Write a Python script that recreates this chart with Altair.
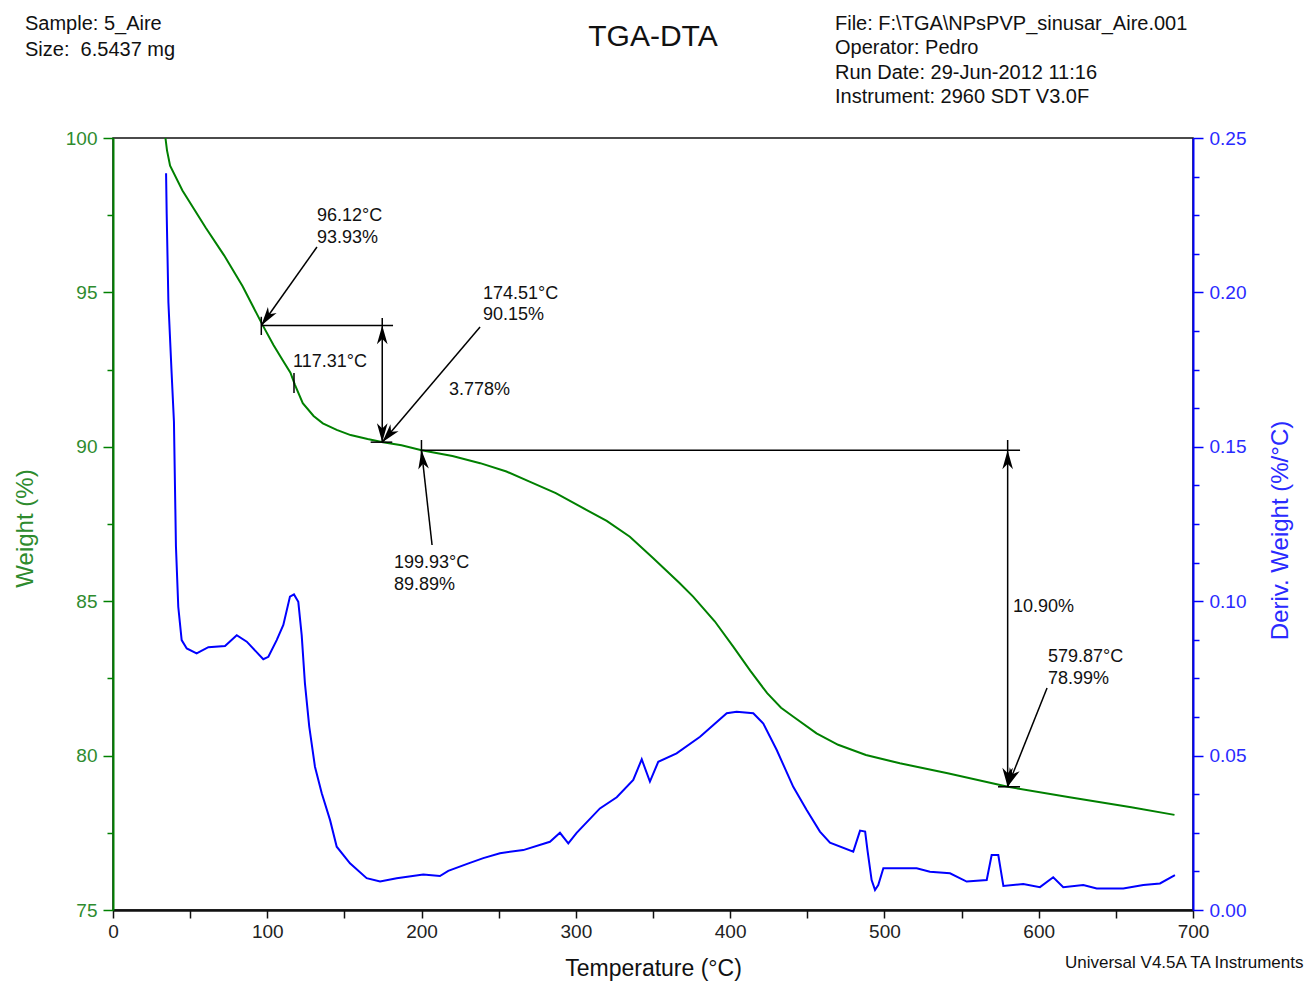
import math
import altair as alt
import pandas as pd

# ---- TGA weight curve (temperature °C, weight %) ----
tga_temp = [34, 35, 37, 45, 60, 72, 84, 97, 104, 110, 115, 118, 123, 130, 136, 145,
            154, 165, 175, 187, 200, 220, 238, 255, 270, 287, 303, 320, 335, 350,
            367, 376, 390, 402, 413, 424, 433, 441, 456, 470, 488, 510, 541, 580,
            620, 660, 688]
tga_weight = [100.0, 99.6, 99.1, 98.3, 97.1, 96.2, 95.2, 93.94, 93.3, 92.8, 92.4, 92.0,
              91.41, 91.0, 90.76, 90.55, 90.38, 90.25, 90.15, 90.05, 89.89, 89.7, 89.47,
              89.2, 88.87, 88.5, 88.06, 87.6, 87.09, 86.4, 85.6, 85.15, 84.35, 83.53,
              82.75, 82.02, 81.55, 81.26, 80.72, 80.35, 80.02, 79.75, 79.43, 78.99,
              78.65, 78.33, 78.08]

# ---- derivative weight curve (temperature °C, %/°C) ----
dtg_temp = [34.4, 34.8, 35.9, 38.0, 39.5, 40.8, 42.3, 44.5, 47.8, 54.2, 61.8, 72.6,
            80.2, 86.7, 97.4, 100.7, 106.1, 110.4, 114.7, 117.3, 120.1, 122.3, 124.4,
            127.2, 130.9, 135.3, 140.7, 145.0, 153.6, 164.4, 173.1, 183.9, 201.1,
            211.9, 217.3, 230, 240, 250.8, 265.9, 283.2, 289.7, 295.1, 300.5, 315.6,
            326.5, 337.2, 342.7, 348.0, 353.4, 365.3, 380.5, 397.8, 404.2, 415.0,
            421.5, 430.2, 440.9, 449.6, 458.2, 464.7, 479.8, 484.2, 487.5, 489.0,
            491.7, 493.9, 496.0, 499.3, 514.4, 520.9, 529.5, 542.5, 553.3, 566.3,
            569.5, 573.8, 577.1, 590.0, 600.8, 609.4, 615.9, 628.9, 637.6, 654.8,
            667.8, 678.6, 688.3]
dtg_value = [0.2386, 0.2255, 0.1969, 0.1738, 0.1581, 0.1177, 0.0982, 0.0874, 0.0847,
             0.0831, 0.0851, 0.0855, 0.0890, 0.0869, 0.0812, 0.0820, 0.0874, 0.0923,
             0.1015, 0.1022, 0.0998, 0.0890, 0.0734, 0.0594, 0.0464, 0.0378, 0.0291,
             0.0205, 0.0151, 0.0103, 0.0092, 0.0103, 0.0115, 0.0110, 0.0127, 0.0150,
             0.0168, 0.0184, 0.0194, 0.0221, 0.0250, 0.0216, 0.0250, 0.0329, 0.0365,
             0.0421, 0.0488, 0.0416, 0.0480, 0.0507, 0.0561, 0.0637, 0.0642, 0.0637,
             0.0604, 0.0518, 0.0399, 0.0324, 0.0254, 0.0218, 0.0189, 0.0257, 0.0254,
             0.0194, 0.0097, 0.0065, 0.0081, 0.0135, 0.0135, 0.0135, 0.0124, 0.0119,
             0.0092, 0.0097, 0.0178, 0.0178, 0.0078, 0.0084, 0.0074, 0.0106, 0.0074,
             0.0081, 0.0070, 0.0070, 0.0081, 0.0086, 0.0113]

# ---- step analysis results ----
onset1_t, onset1_w = 96.12, 93.93
end1_t, end1_w = 174.51, 90.15
peak1_t = 117.31
onset2_t, onset2_w = 199.93, 89.89
end2_t, end2_w = 579.87, 78.99
step1 = "3.778%"
step2 = "10.90%"

FONT = "Liberation Sans"
GREEN = "#008000"
GREEN_TXT = "#2e8b2e"
BLUE = "#0000ff"
BLUE_TXT = "#2a2aff"
INK = "#111111"

W, H = 1080, 772
PX_T = W / 700.0
PX_W = H / 25.0

x_scale = alt.Scale(domain=[0, 700], nice=False, zero=False)
w_scale = alt.Scale(domain=[75, 100], nice=False, zero=False)
d_scale = alt.Scale(domain=[0, 0.25], nice=False, zero=False)

x_ticks = [i * 25 for i in range(29)]
w_ticks = [75 + i * 1.25 for i in range(21)]
d_ticks = [round(i * 0.0125, 4) for i in range(21)]

D_MAJOR = "abs(datum.value * 20 - round(datum.value * 20)) < 1e-6"

x_axis = alt.Axis(
    values=x_ticks, format="d",
    labelExpr="datum.value % 100 === 0 ? datum.label : ''",
    title="Temperature (°C)", titleFont=FONT, titleFontSize=23, titleFontWeight="normal",
    titleColor=INK, titleY=58, titleBaseline="middle",
    labelFont=FONT, labelFontSize=19, labelColor="#222", labelPadding=4,
    labelOverlap=False, labelFlush=False,
    domainColor=INK, domainWidth=2.5, tickColor=INK, tickSize=8, tickWidth=1.5,
    grid=False,
)
w_axis = alt.Axis(
    values=w_ticks, format="d",
    labelExpr="datum.value % 5 === 0 ? datum.label : ''",
    title="Weight (%)", titleFont=FONT, titleFontSize=24, titleFontWeight="normal",
    titleColor=GREEN_TXT, titleAngle=270, titleX=-88, titleY=390,
    titleAlign="center", titleBaseline="middle",
    labelFont=FONT, labelFontSize=19, labelColor=GREEN_TXT, labelPadding=6,
    labelOverlap=False, labelFlush=False,
    domainColor=GREEN, domainWidth=2, tickColor=GREEN, tickWidth=1.5,
    tickSize={"condition": {"test": "datum.value % 5 === 0", "value": 10}, "value": 6},
    grid=False,
)
d_axis = alt.Axis(
    values=d_ticks, orient="right",
    labelExpr=D_MAJOR + " ? format(datum.value, '.2f') : ''",
    title="Deriv. Weight (%/°C)", titleFont=FONT, titleFontSize=24, titleFontWeight="normal",
    titleColor=BLUE_TXT, titleAngle=270, titleX=87, titleY=392,
    titleAlign="center", titleBaseline="middle",
    labelFont=FONT, labelFontSize=19, labelColor=BLUE_TXT, labelPadding=6,
    labelOverlap=False, labelFlush=False,
    domainColor=BLUE, domainWidth=2, tickColor=BLUE, tickWidth=1.5,
    tickSize={"condition": {"test": D_MAJOR, "value": 10}, "value": 6},
    grid=False,
)

tga_df = pd.DataFrame({"T": tga_temp, "W": tga_weight})
dtg_df = pd.DataFrame({"T": dtg_temp, "D": dtg_value})

# label anchors (°C, %) for the annotation texts and arrow tails
lab1 = (132.2, 97.47)
lab2 = (239.8, 94.95)
lab3 = (182.1, 86.24)
lab4 = (606.0, 83.19)
tail1 = (132.2, 96.47)
tail2 = (237.9, 93.88)
tail3 = (206.8, 86.82)
tail4 = (605.4, 82.19)

segments = [
    # step 1
    (onset1_t, onset1_w, 181.5, onset1_w),
    (end1_t, 94.17, end1_t, end1_w),
    (onset1_t, 94.21, onset1_t, 93.62),
    (peak1_t, 92.39, peak1_t, 91.74),
    (167.0, end1_w, 181.0, end1_w),
    (tail1[0], tail1[1], onset1_t, onset1_w),
    (tail2[0], tail2[1], end1_t, end1_w),
    # step 2
    (onset2_t, onset2_w, 587.9, onset2_w),
    (onset2_t, 90.22, onset2_t, 89.68),
    (tail3[0], tail3[1], onset2_t, onset2_w),
    (end2_t, 90.22, end2_t, end2_w),
    (573.6, end2_w, 587.9, end2_w),
    (tail4[0], tail4[1], end2_t, end2_w),
]
seg_df = pd.DataFrame(segments, columns=["T", "W", "T2", "W2"])


def heading(tail, tip):
    dx = (tip[0] - tail[0]) * PX_T
    dy = -(tip[1] - tail[1]) * PX_W
    return math.degrees(math.atan2(dx, -dy)) % 360


heads = [
    (onset1_t, onset1_w, heading(tail1, (onset1_t, onset1_w))),
    (end1_t, end1_w, heading(tail2, (end1_t, end1_w))),
    (end1_t, end1_w, 180.0),
    (end1_t, onset1_w, 0.0),
    (onset2_t, onset2_w, heading(tail3, (onset2_t, onset2_w))),
    (end2_t, onset2_w, 0.0),
    (end2_t, end2_w, 180.0),
    (end2_t, end2_w, heading(tail4, (end2_t, end2_w))),
]
head_df = pd.DataFrame(heads, columns=["T", "W", "ang"])

texts = [
    (lab1[0], lab1[1], f"{onset1_t:.2f}°C"),
    (lab1[0], lab1[1] - 0.71, f"{onset1_w:.2f}%"),
    (116.7, 92.75, f"{peak1_t:.2f}°C"),
    (lab2[0], lab2[1], f"{end1_t:.2f}°C"),
    (lab2[0], lab2[1] - 0.68, f"{end1_w:.2f}%"),
    (217.8, 91.84, step1),
    (lab3[0], lab3[1], f"{onset2_t:.2f}°C"),
    (lab3[0], lab3[1] - 0.72, f"{onset2_w:.2f}%"),
    (583.3, 84.81, step2),
    (lab4[0], lab4[1], f"{end2_t:.2f}°C"),
    (lab4[0], lab4[1] - 0.71, f"{end2_w:.2f}%"),
]
text_df = pd.DataFrame(texts, columns=["T", "W", "label"])

tga_line = alt.Chart(tga_df).mark_line(color=GREEN, strokeWidth=2).encode(
    x=alt.X("T:Q", scale=x_scale, axis=x_axis),
    y=alt.Y("W:Q", scale=w_scale, axis=w_axis),
)
rules = alt.Chart(seg_df).mark_rule(color="#000", strokeWidth=1.5).encode(
    x=alt.X("T:Q", scale=x_scale), x2="T2:Q",
    y=alt.Y("W:Q", scale=w_scale), y2="W2:Q",
)
arrowheads = alt.Chart(head_df).mark_point(
    shape="M0,0L-0.45,1.6L0,1.15L0.45,1.6Z", filled=True, size=560,
    color="#000", opacity=1,
).encode(
    x=alt.X("T:Q", scale=x_scale),
    y=alt.Y("W:Q", scale=w_scale),
    angle=alt.Angle("ang:Q", scale=None),
)
labels = alt.Chart(text_df).mark_text(
    align="left", baseline="middle", font=FONT, fontSize=18, color=INK,
).encode(
    x=alt.X("T:Q", scale=x_scale),
    y=alt.Y("W:Q", scale=w_scale),
    text="label:N",
)
weight_layer = alt.layer(tga_line, rules, arrowheads, labels)

dtg_line = alt.Chart(dtg_df).mark_line(color=BLUE, strokeWidth=2).encode(
    x=alt.X("T:Q", scale=x_scale, axis=x_axis),
    y=alt.Y("D:Q", scale=d_scale, axis=d_axis),
)

blank = alt.Data(values=[{}])
hdr_left = alt.Chart(blank).mark_text(
    text=["Sample: 5_Aire", "Size:\u00a0 6.5437 mg"], align="left", baseline="middle",
    font=FONT, fontSize=20, lineHeight=26, color=INK,
).encode(x=alt.value(-88), y=alt.value(-114))
hdr_title = alt.Chart(blank).mark_text(
    text="TGA-DTA", align="center", baseline="middle",
    font=FONT, fontSize=30, color=INK,
).encode(x=alt.value(540), y=alt.value(-101))
hdr_right = alt.Chart(blank).mark_text(
    text=["File: F:\\TGA\\NPsPVP_sinusar_Aire.001", "Operator: Pedro",
          "Run Date: 29-Jun-2012 11:16", "Instrument: 2960 SDT V3.0F"],
    align="left", baseline="middle",
    font=FONT, fontSize=20, lineHeight=24.3, color=INK,
).encode(x=alt.value(722), y=alt.value(-114))
footer = alt.Chart(blank).mark_text(
    text="Universal V4.5A TA Instruments", align="left", baseline="middle",
    font=FONT, fontSize=17, color=INK,
).encode(x=alt.value(952), y=alt.value(825))

chart = alt.layer(
    weight_layer, dtg_line, hdr_left, hdr_title, hdr_right, footer
).resolve_scale(y="independent").properties(
    width=W, height=H,
    padding={"left": 113, "top": 138, "right": 119, "bottom": 73},
    autosize=alt.AutoSizeParams(type="none"),
    background="white",
).configure_view(stroke=INK, strokeWidth=1.5)

chart.save("out.html", embed_options={"renderer": "svg", "actions": False})
